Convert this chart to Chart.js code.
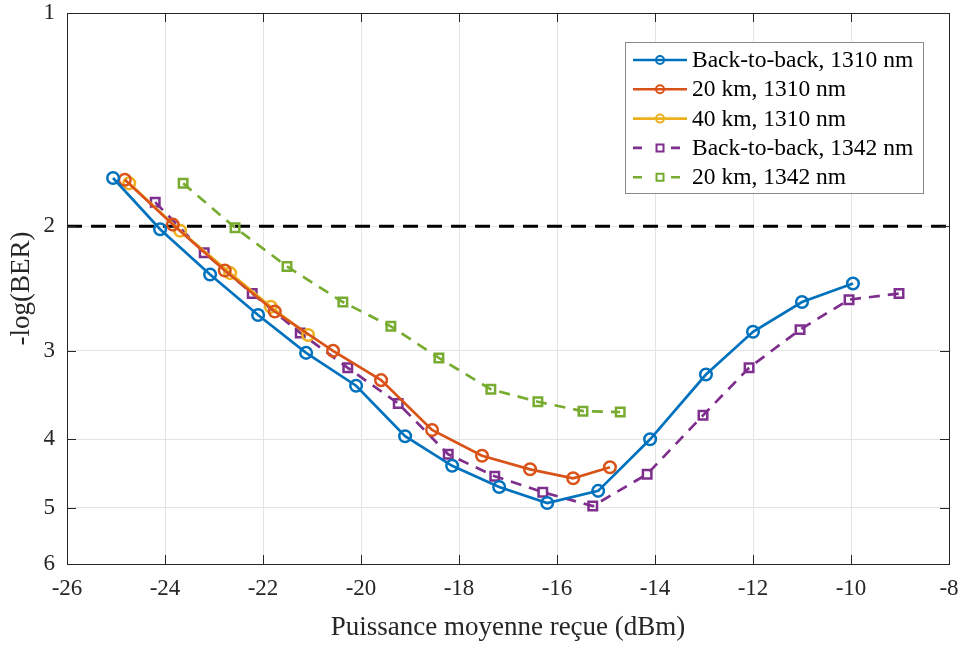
<!DOCTYPE html>
<html>
<head>
<meta charset="utf-8">
<script src="https://cdn.jsdelivr.net/npm/chart.js@4.4.0/dist/chart.umd.min.js"></script>
<style>
  html, body { margin: 0; padding: 0; background: #fff; }
</style>
</head>
<body>
<canvas id="myChart" width="959" height="646"></canvas>
<script>
// values
const xTicks = [-26, -24, -22, -20, -18, -16, -14, -12, -10, -8];
const yTicks = [1, 2, 3, 4, 5, 6];
const berLimit = 2;

const xB2B1310 = [-25.06, -24.1, -23.08, -22.1, -21.12, -20.1, -19.1, -18.14, -17.18, -16.2, -15.16, -14.1, -12.96, -12.0, -11.0, -9.96];
const yB2B1310 = [1.71, 2.02, 2.34, 2.67, 3.02, 3.36, 3.96, 4.36, 4.67, 4.92, 4.73, 4.00, 3.24, 2.82, 2.56, 2.41];

const x20km1310 = [-24.82, -23.84, -22.78, -21.76, -20.57, -19.59, -18.55, -17.53, -16.55, -15.67, -14.92];
const y20km1310 = [1.72, 1.99, 2.31, 2.64, 3.00, 3.30, 3.88, 4.22, 4.41, 4.54, 4.38];

const x40km1310 = [-24.73, -23.69, -22.67, -21.84, -21.08];
const y40km1310 = [1.74, 2.03, 2.33, 2.60, 2.85];

const xB2B1342 = [-24.2, -23.2, -22.22, -21.24, -20.27, -19.24, -18.22, -17.27, -16.29, -15.27, -14.16, -13.02, -12.08, -11.04, -10.04, -9.02];
const yB2B1342 = [1.85, 2.18, 2.49, 2.83, 3.17, 3.56, 4.20, 4.51, 4.75, 4.97, 4.48, 3.70, 3.17, 2.80, 2.54, 2.49];

const x20km1342 = [-23.63, -22.57, -21.51, -20.37, -19.39, -18.41, -17.35, -16.39, -15.47, -14.71];
const y20km1342 = [1.74, 2.01, 2.28, 2.56, 2.77, 3.07, 3.40, 3.54, 3.65, 3.66];

const labels = ['Back-to-back, 1310 nm', '20 km, 1310 nm', '40 km, 1310 nm', 'Back-to-back, 1342 nm', '20 km, 1342 nm'];
const colors = ['#0072BD', '#D95319', '#EDB120', '#7E2F8E', '#77AC30'];

const FONT = '"Liberation Serif", "Times New Roman", serif';
const AXIS = '#262626';

const pairs = (xs, ys) => xs.map((x, i) => ({ x: x, y: ys[i] }));

const series = [
  { data: pairs(xB2B1310, yB2B1310), dashed: false },
  { data: pairs(x20km1310, y20km1310), dashed: false },
  { data: pairs(x40km1310, y40km1310), dashed: false },
  { data: pairs(xB2B1342, yB2B1342), dashed: true },
  { data: pairs(x20km1342, y20km1342), dashed: true }
];

const datasets = series.map((s, i) => ({
  label: labels[i],
  data: s.data,
  borderColor: colors[i],
  backgroundColor: 'rgba(0,0,0,0)',
  borderWidth: 2.7,
  borderDash: s.dashed ? [11, 8] : [],
  pointStyle: s.dashed ? 'rect' : 'circle',
  pointRadius: s.dashed ? 6 : 5.8,
  pointBorderWidth: 2.5,
  pointBorderColor: colors[i],
  pointBackgroundColor: 'rgba(0,0,0,0)',
  tension: 0
}));

// threshold line
datasets.push({
  label: 'limit',
  data: [{ x: xTicks[0], y: berLimit }, { x: xTicks[xTicks.length - 1], y: berLimit }],
  borderColor: '#000',
  borderWidth: 3,
  borderDash: [15, 9],
  pointRadius: 0,
  order: 10
});

const framePlugin = {
  id: 'frame',
  afterDraw(chart) {
    const { ctx, chartArea: a, scales } = chart;
    const tl = 9;
    ctx.save();
    ctx.strokeStyle = AXIS;
    ctx.lineWidth = 1;
    ctx.beginPath();
    xTicks.forEach(v => {
      const px = Math.round(scales.x.getPixelForValue(v)) + 0.5;
      ctx.moveTo(px, a.bottom); ctx.lineTo(px, a.bottom - tl);
      ctx.moveTo(px, a.top); ctx.lineTo(px, a.top + tl);
    });
    yTicks.forEach(v => {
      const py = Math.round(scales.y.getPixelForValue(v)) + 0.5;
      ctx.moveTo(a.left, py); ctx.lineTo(a.left + tl, py);
      ctx.moveTo(a.right, py); ctx.lineTo(a.right - tl, py);
    });
    ctx.stroke();
    ctx.strokeRect(Math.round(a.left) + 0.5, Math.round(a.top) + 0.5, Math.round(a.right - a.left), Math.round(a.bottom - a.top));

    // legend box, MATLAB style
    const bx = a.right - 324, by = a.top + 29, bw = 298, bh = 151;
    ctx.fillStyle = '#fff';
    ctx.fillRect(bx, by, bw, bh);
    ctx.strokeStyle = '#8a8a8a';
    ctx.strokeRect(bx + 0.5, by + 0.5, bw, bh);
    ctx.font = '23.5px ' + FONT;
    ctx.textBaseline = 'middle';
    ctx.fillStyle = '#000';
    labels.forEach((lab, i) => {
      const cy = by + 18 + i * 29.3;
      const x0 = bx + 8, x1 = bx + 62, cx = (x0 + x1) / 2;
      ctx.strokeStyle = colors[i];
      ctx.lineWidth = 2.6;
      ctx.setLineDash(series[i].dashed ? [9, 10] : []);
      ctx.beginPath();
      ctx.moveTo(x0, cy); ctx.lineTo(x1, cy);
      ctx.stroke();
      ctx.setLineDash([]);
      ctx.lineWidth = 2;
      ctx.beginPath();
      if (series[i].dashed) {
        ctx.clearRect(cx - 10, cy - 5, 20, 10);
        ctx.rect(cx - 3.5, cy - 3.5, 7, 7);
      } else {
        ctx.arc(cx, cy, 4, 0, Math.PI * 2);
      }
      ctx.stroke();
      ctx.fillStyle = '#000';
      ctx.fillText(lab, x1 + 5, cy + 1);
    });
    ctx.restore();
  }
};

new Chart(document.getElementById('myChart'), {
  type: 'line',
  data: { datasets: datasets },
  options: {
    responsive: false,
    animation: false,
    layout: { padding: { left: 0, top: 13, right: 10, bottom: 0 } },
    plugins: { legend: { display: false }, tooltip: { enabled: false } },
    scales: {
      x: {
        type: 'linear',
        min: -26,
        max: -8,
        afterBuildTicks: scale => { scale.ticks = xTicks.map(v => ({ value: v })); },
        afterFit: scale => {
          scale.height = 82;
          scale.paddingLeft = 0; scale.paddingRight = 0;
        },
        ticks: { font: { family: FONT, size: 23 }, color: AXIS, padding: 11, maxRotation: 0 },
        grid: { color: '#e4e4e4', drawTicks: false },
        border: { display: false },
        title: {
          display: true,
          text: 'Puissance moyenne reçue (dBm)',
          font: { family: FONT, size: 27, lineHeight: 1.2 },
          color: AXIS,
          padding: { top: 0, bottom: 2 }
        }
      },
      y: {
        type: 'logarithmic',
        reverse: true,
        min: 1,
        max: 6,
        afterBuildTicks: scale => { scale.ticks = yTicks.map(v => ({ value: v })); },
        afterFit: scale => {
          scale.width = 67;
          scale.paddingTop = 0; scale.paddingBottom = 0;
        },
        ticks: { font: { family: FONT, size: 23 }, color: AXIS, padding: 12, callback: v => String(v) },
        grid: { color: '#e4e4e4', drawTicks: false },
        border: { display: false },
        title: {
          display: true,
          text: '-log(BER)',
          font: { family: FONT, size: 27, lineHeight: 1.2 },
          color: AXIS,
          padding: { top: 6, bottom: 0 }
        }
      }
    }
  },
  plugins: [framePlugin]
});
</script>
</body>
</html>
